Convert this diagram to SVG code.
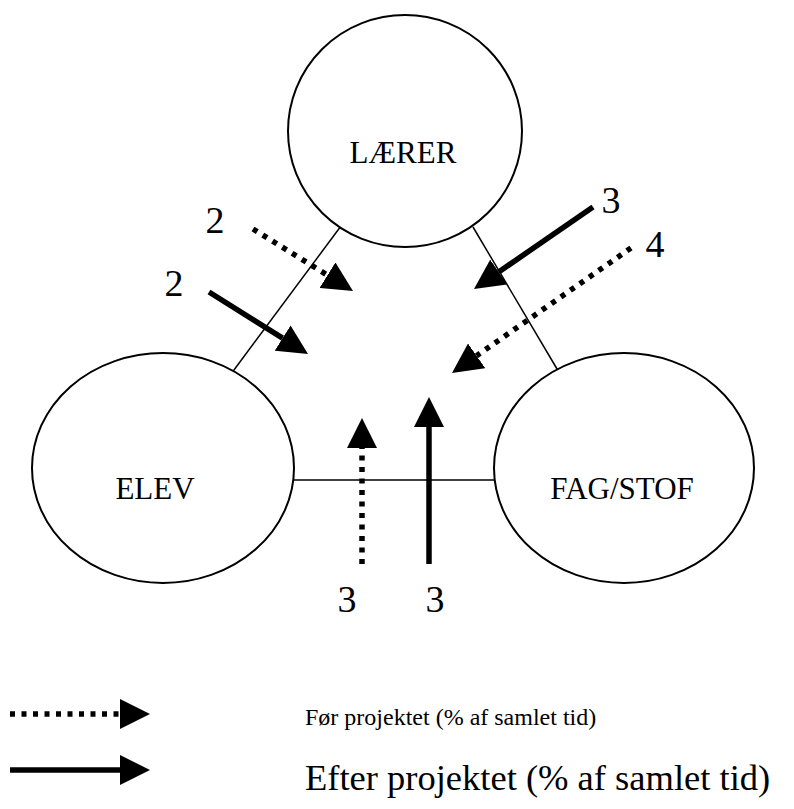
<svg xmlns="http://www.w3.org/2000/svg" width="794" height="809" viewBox="0 0 794 809">
<defs>
<style>
.node{fill:#fff;stroke:#000;stroke-width:2}
.edge{stroke:#000;stroke-width:1.5;fill:none}
.solid{stroke:#000;stroke-width:5.5;fill:none}
.dot{stroke:#000;stroke-width:5.5;stroke-dasharray:5 6.5;fill:none}
text{font-family:"Liberation Serif","Times New Roman",serif;fill:#000}
.num{font-size:38px;text-anchor:middle}
.nt{font-size:31px;text-anchor:middle}
</style>
<marker id="ah" viewBox="0 0 30 30" refX="0" refY="15" markerWidth="30" markerHeight="30" markerUnits="userSpaceOnUse" orient="auto">
<path d="M0,0 L30,15 L0,30 Z" fill="#000"/>
</marker>
</defs>
<rect width="794" height="809" fill="#fff"/>
<g id="connectors">
<line class="edge" x1="341" y1="226" x2="231" y2="374"/>
<line class="edge" x1="473" y1="227" x2="560" y2="374"/>
<line class="edge" x1="293" y1="480" x2="495" y2="480"/>
</g>
<g id="laerer"><ellipse class="node" cx="405" cy="131" rx="117" ry="116"/><text class="nt" x="403" y="163" font-family="Liberation Serif, serif">LÆRER</text></g>
<g id="elev"><ellipse class="node" cx="163" cy="468" rx="131" ry="115"/><text class="nt" x="155" y="499" font-family="Liberation Serif, serif">ELEV</text></g>
<g id="fagstof"><ellipse class="node" cx="624" cy="468" rx="130" ry="115"/><text class="nt" x="622" y="499" font-family="Liberation Serif, serif">FAG/STOF</text></g>
<g id="arrows">
<line class="dot" x1="253" y1="229" x2="327.5" y2="275.2" marker-end="url(#ah)"/>
<line class="solid" x1="209" y1="292" x2="282.6" y2="338.1" marker-end="url(#ah)"/>
<line class="solid" x1="593" y1="207" x2="498.7" y2="272" marker-end="url(#ah)"/>
<line class="dot" x1="631" y1="248" x2="476.6" y2="355.8" marker-end="url(#ah)"/>
<line class="dot" x1="362" y1="564" x2="362" y2="448" marker-end="url(#ah)"/>
<line class="solid" x1="429" y1="564" x2="429" y2="427" marker-end="url(#ah)"/>
</g>
<g id="labels" font-family="Liberation Serif, serif">
<text class="num" x="215" y="233" font-family="Liberation Serif, serif">2</text>
<text class="num" x="174" y="296" font-family="Liberation Serif, serif">2</text>
<text class="num" x="611" y="213" font-family="Liberation Serif, serif">3</text>
<text class="num" x="655" y="257" font-family="Liberation Serif, serif">4</text>
<text class="num" x="347" y="612" font-family="Liberation Serif, serif">3</text>
<text class="num" x="435" y="612" font-family="Liberation Serif, serif">3</text>
</g>
<g id="legend">
<line class="dot" x1="10" y1="714" x2="120" y2="714" marker-end="url(#ah)"/>
<line class="solid" x1="10" y1="770" x2="120" y2="770" marker-end="url(#ah)"/>
<text x="305" y="725" font-size="24" font-family="Liberation Serif, serif">Før projektet (% af samlet tid)</text>
<text x="305" y="790" font-size="36.5" font-family="Liberation Serif, serif">Efter projektet (% af samlet tid)</text>
</g>
</svg>
